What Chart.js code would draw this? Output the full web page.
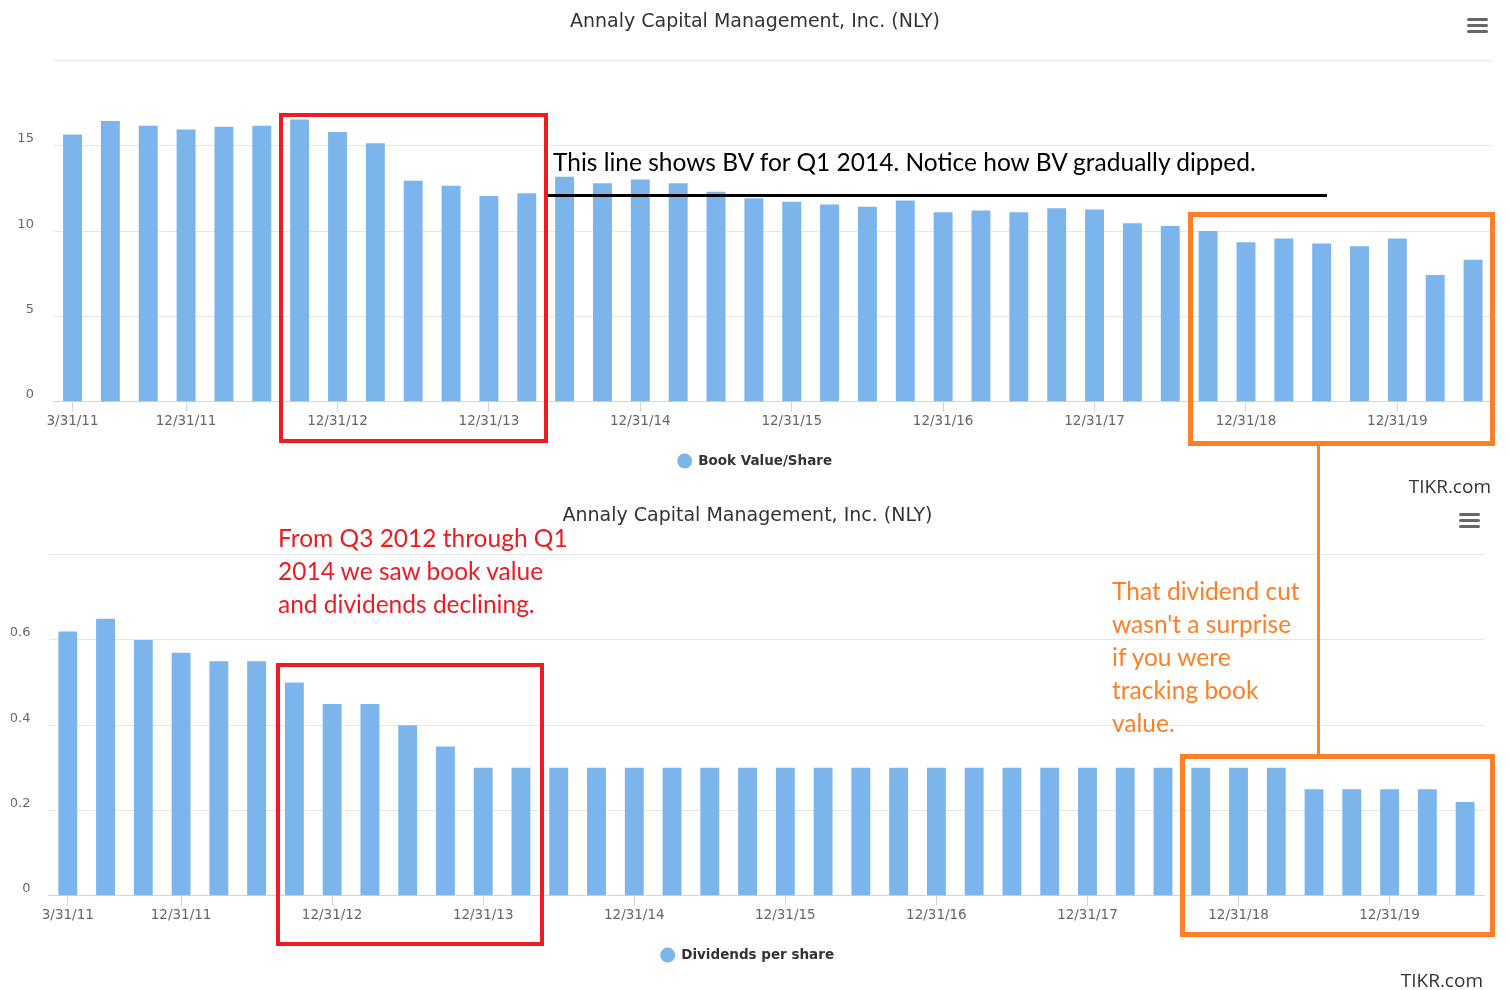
<!DOCTYPE html>
<html>
<head>
<meta charset="utf-8">
<title>Annaly Capital Management, Inc. (NLY)</title>
<script src="https://cdn.jsdelivr.net/npm/chart.js@4.4.1/dist/chart.umd.min.js"></script>
<style>
  body { margin: 0; width: 1510px; height: 990px; background: #fff; position: relative; overflow: hidden; }
  .panel { position: absolute; left: 0; height: 494px; }
  .credits { position: absolute; font-family: "Open Sans", sans-serif; font-size: 19px; color: #333; line-height: 24px; }
  .menu { position: absolute; width: 21px; }
  .menu span { display: block; height: 3.5px; background: #666; border-radius: 2px; margin-bottom: 2.5px; }
  .box { position: absolute; box-sizing: border-box; }
  .note { position: absolute; font-family: Lato, "Open Sans", sans-serif; font-size: 24.5px; line-height: 33px; white-space: nowrap; }
</style>
</head>
<body>

<div class="panel" style="top:0; width:1510px;"><canvas id="bvChart"></canvas></div>
<div class="panel" style="top:494px; width:1495px;"><canvas id="divChart"></canvas></div>

<div class="menu" style="left:1467px; top:17.75px;"><span></span><span></span><span></span></div>
<div class="menu" style="left:1459px; top:512.75px;"><span></span><span></span><span></span></div>
<div class="credits" style="right:19px; top:474px;">TIKR.com</div>
<div class="credits" style="right:27px; top:968px;">TIKR.com</div>

<!-- annotations drawn on top of the charts -->
<div class="box" style="left:279px; top:113px; width:269px; height:330px; border:4px solid #ed1c24;"></div>
<div class="box" style="left:276px; top:663px; width:268px; height:283px; border:4px solid #ed1c24;"></div>
<div class="box" style="left:1188px; top:212px; width:307px; height:234px; border:5px solid #ff7f27;"></div>
<div class="box" style="left:1180px; top:754px; width:315px; height:183px; border:5px solid #ff7f27;"></div>
<div class="box" style="left:1317px; top:446px; width:3px; height:308px; background:#ff7f27;"></div>
<div class="box" style="left:548px; top:194px; width:779px; height:3px; background:#000;"></div>

<div class="note" style="left:553px; top:145px; color:#000;">This line shows BV for Q1 2014. Notice how BV gradually dipped.</div>
<div class="note" style="left:278px; top:521px; color:#ed1c24;">From Q3 2012 through Q1<br>2014 we saw book value<br>and dividends declining.</div>
<div class="note" style="left:1112px; top:574px; color:#ff7f27;">That dividend cut<br>wasn't a surprise<br>if you were<br>tracking book<br>value.</div>

<script>
// quarter ends, 3/31/11 .. 6/30/20
const quarters = [
  "3/31/11", "6/30/11", "9/30/11", "12/31/11",
  "3/31/12", "6/30/12", "9/30/12", "12/31/12",
  "3/31/13", "6/30/13", "9/30/13", "12/31/13",
  "3/31/14", "6/30/14", "9/30/14", "12/31/14",
  "3/31/15", "6/30/15", "9/30/15", "12/31/15",
  "3/31/16", "6/30/16", "9/30/16", "12/31/16",
  "3/31/17", "6/30/17", "9/30/17", "12/31/17",
  "3/31/18", "6/30/18", "9/30/18", "12/31/18",
  "3/31/19", "6/30/19", "9/30/19", "12/31/19",
  "3/31/20", "6/30/20"
];

// only these dates get a label on the x axis
const tickLabels = ["3/31/11", "12/31/11", "12/31/12", "12/31/13", "12/31/14",
  "12/31/15", "12/31/16", "12/31/17", "12/31/18", "12/31/19"];

const bookValue = [
  15.67, 16.47, 16.18, 15.96, 16.12, 16.18, 16.55, 15.82,
  15.16, 12.96, 12.67, 12.06, 12.22, 13.19, 12.82, 13.04,
  12.82, 12.31, 11.94, 11.73, 11.57, 11.43, 11.80, 11.12,
  11.22, 11.12, 11.35, 11.27, 10.47, 10.31, 10.02, 9.35,
  9.57, 9.28, 9.12, 9.57, 7.44, 8.32
];

const dividends = [
  0.62, 0.65, 0.60, 0.57, 0.55, 0.55, 0.50, 0.45,
  0.45, 0.40, 0.35, 0.30, 0.30, 0.30, 0.30, 0.30,
  0.30, 0.30, 0.30, 0.30, 0.30, 0.30, 0.30, 0.30,
  0.30, 0.30, 0.30, 0.30, 0.30, 0.30, 0.30, 0.30,
  0.30, 0.25, 0.25, 0.25, 0.25, 0.22
];

const chartTitle = "Annaly Capital Management, Inc. (NLY)";
const barColor = "#7cb5ec";

function makeChart(id, label, values, yMax, yStep, sidePad, yWidth, yPad) {
  const ctx = document.getElementById(id).getContext("2d");
  return new Chart(ctx, {
    type: "bar",
    data: {
      labels: quarters,
      datasets: [{
        label: label,
        data: values,
        backgroundColor: barColor,
        borderWidth: 0,
        barPercentage: 0.5,
        categoryPercentage: 1
      }]
    },
    options: {
      responsive: true,
      maintainAspectRatio: false,
      animation: false,
      events: [],
      layout: { padding: { left: sidePad, right: sidePad, top: 0, bottom: 16.25 } },
      plugins: {
        title: {
          display: true,
          text: chartTitle,
          color: "#333333",
          font: { family: "DejaVu Sans", size: 19, weight: "normal" },
          padding: { top: 11, bottom: 26.9 }
        },
        legend: {
          position: "bottom",
          labels: {
            usePointStyle: true,
            pointStyle: "circle",
            boxHeight: 10.6,
            padding: 10,
            color: "#333333",
            font: { family: "DejaVu Sans", size: 13.5, weight: "bold" }
          }
        },
        tooltip: { enabled: false }
      },
      scales: {
        x: {
          offset: true,
          afterFit: s => { s.height = 42.5; },
          border: { color: "#ccd6eb", width: 1 },
          grid: {
            drawOnChartArea: false,
            drawTicks: true,
            tickLength: 10,
            offset: false,
            tickColor: c => tickLabels.includes(quarters[c.index]) ? "#ccd6eb" : "rgba(0,0,0,0)"
          },
          ticks: {
            autoSkip: false,
            maxRotation: 0,
            padding: 2,
            color: "#666666",
            font: { family: "DejaVu Sans", size: 13.5 },
            callback: (v, i) => tickLabels.includes(quarters[i]) ? quarters[i] : ""
          }
        },
        y: {
          min: 0,
          max: yMax,
          afterFit: s => { s.width = yWidth; },
          border: { display: false },
          grid: { color: "#e6e6e6", drawTicks: false },
          ticks: {
            stepSize: yStep,
            padding: yPad,
            labelOffset: -7,
            color: "#666666",
            font: { family: "DejaVu Sans", size: 13 },
            // top gridline has no label
            callback: v => Math.abs(v - yMax) < 1e-9 ? "" : String(Math.round(v * 100) / 100)
          }
        }
      }
    }
  });
}

const bvChart = makeChart("bvChart", "Book Value/Share", bookValue, 20, 5, 18, 35.6, 19.7);
const divChart = makeChart("divChart", "Dividends per share", dividends, 0.8, 0.2, 11, 37.9, 18.5);
</script>
</body>
</html>
